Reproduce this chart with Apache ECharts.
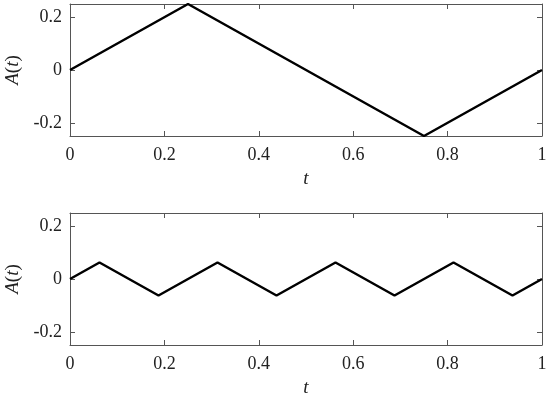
<!DOCTYPE html>
<html>
<head>
<meta charset="utf-8">
<script src="https://cdn.jsdelivr.net/npm/echarts@6/dist/echarts.min.js"></script>
<style>
  html, body { margin: 0; padding: 0; background: #fff; }
  #chart { width: 550px; height: 400px; }
</style>
</head>
<body>
<div id="chart"></div>
<script>
// top panel: one slow triangle period
const topT = [0, 0.25, 0.75, 1];
const topA = [0, 0.25, -0.25, 0];
// bottom panel: four faster periods
const bottomT = [0, 0.0625, 0.1875, 0.3125, 0.4375, 0.5625, 0.6875, 0.8125, 0.9375, 1];
const bottomA = [0, 0.0625, -0.0625, 0.0625, -0.0625, 0.0625, -0.0625, 0.0625, -0.0625, 0];
const yTicks = [-0.2, 0, 0.2];

const serif = 'Liberation Serif';
const axisColor = '#555';

function pairs(xs, ys) {
  return xs.map((x, i) => [x, ys[i]]);
}

function xAxes(gridIndex) {
  return [
    {
      gridIndex, type: 'value', min: 0, max: 1, interval: 0.2,
      position: 'bottom',
      axisLine: { onZero: false, lineStyle: { color: axisColor, width: 1 } },
      axisTick: { inside: true, length: 5, lineStyle: { color: axisColor } },
      axisLabel: { color: '#222', fontFamily: serif, fontSize: 18, margin: 10,
        formatter: v => String(+v.toFixed(1)) },
      splitLine: { show: false },
      name: 't', nameLocation: 'middle', nameGap: 33,
      nameTextStyle: { color: '#222', fontFamily: serif, fontSize: 19, fontStyle: 'italic' }
    },
    {
      gridIndex, type: 'value', min: 0, max: 1, interval: 0.2,
      position: 'top',
      axisLine: { onZero: false, lineStyle: { color: axisColor, width: 1 } },
      axisTick: { inside: true, length: 5, lineStyle: { color: axisColor } },
      axisLabel: { show: false },
      splitLine: { show: false }
    }
  ];
}

function yAxes(gridIndex) {
  return [
    {
      gridIndex, type: 'value', min: -0.25, max: 0.25,
      position: 'left',
      axisLine: { show: true, onZero: false, lineStyle: { color: axisColor, width: 1 } },
      axisTick: { show: true, inside: true, length: 5, customValues: yTicks, lineStyle: { color: axisColor } },
      axisLabel: { color: '#222', fontFamily: serif, fontSize: 18, margin: 8, customValues: yTicks,
        formatter: v => String(+v.toFixed(1)) },
      splitLine: { show: false },
      name: '{i|A}({i|t})', nameLocation: 'middle', nameGap: 43, nameRotate: 90,
      nameTextStyle: { color: '#222', fontFamily: serif, fontSize: 19,
        rich: { i: { fontFamily: serif, fontSize: 19, fontStyle: 'italic', color: '#222' } } }
    },
    {
      gridIndex, type: 'value', min: -0.25, max: 0.25,
      position: 'right',
      axisLine: { show: true, onZero: false, lineStyle: { color: axisColor, width: 1 } },
      axisTick: { show: true, inside: true, length: 5, customValues: yTicks, lineStyle: { color: axisColor } },
      axisLabel: { show: false },
      splitLine: { show: false }
    }
  ];
}

const option = {
  animation: false,
  grid: [
    { left: 70, right: 8, top: 4, height: 132, outerBoundsMode: 'none' },
    { left: 70, right: 8, top: 213, height: 132, outerBoundsMode: 'none' }
  ],
  xAxis: [...xAxes(0), ...xAxes(1)],
  yAxis: [...yAxes(0), ...yAxes(1)],
  series: [
    {
      type: 'line', xAxisIndex: 0, yAxisIndex: 0,
      data: pairs(topT, topA), showSymbol: false,
      lineStyle: { color: '#000', width: 2.5 }
    },
    {
      type: 'line', xAxisIndex: 2, yAxisIndex: 2,
      data: pairs(bottomT, bottomA), showSymbol: false,
      lineStyle: { color: '#000', width: 2.5 }
    }
  ]
};

const myChart = echarts.init(document.getElementById('chart'));
myChart.setOption(option);
</script>
</body>
</html>
